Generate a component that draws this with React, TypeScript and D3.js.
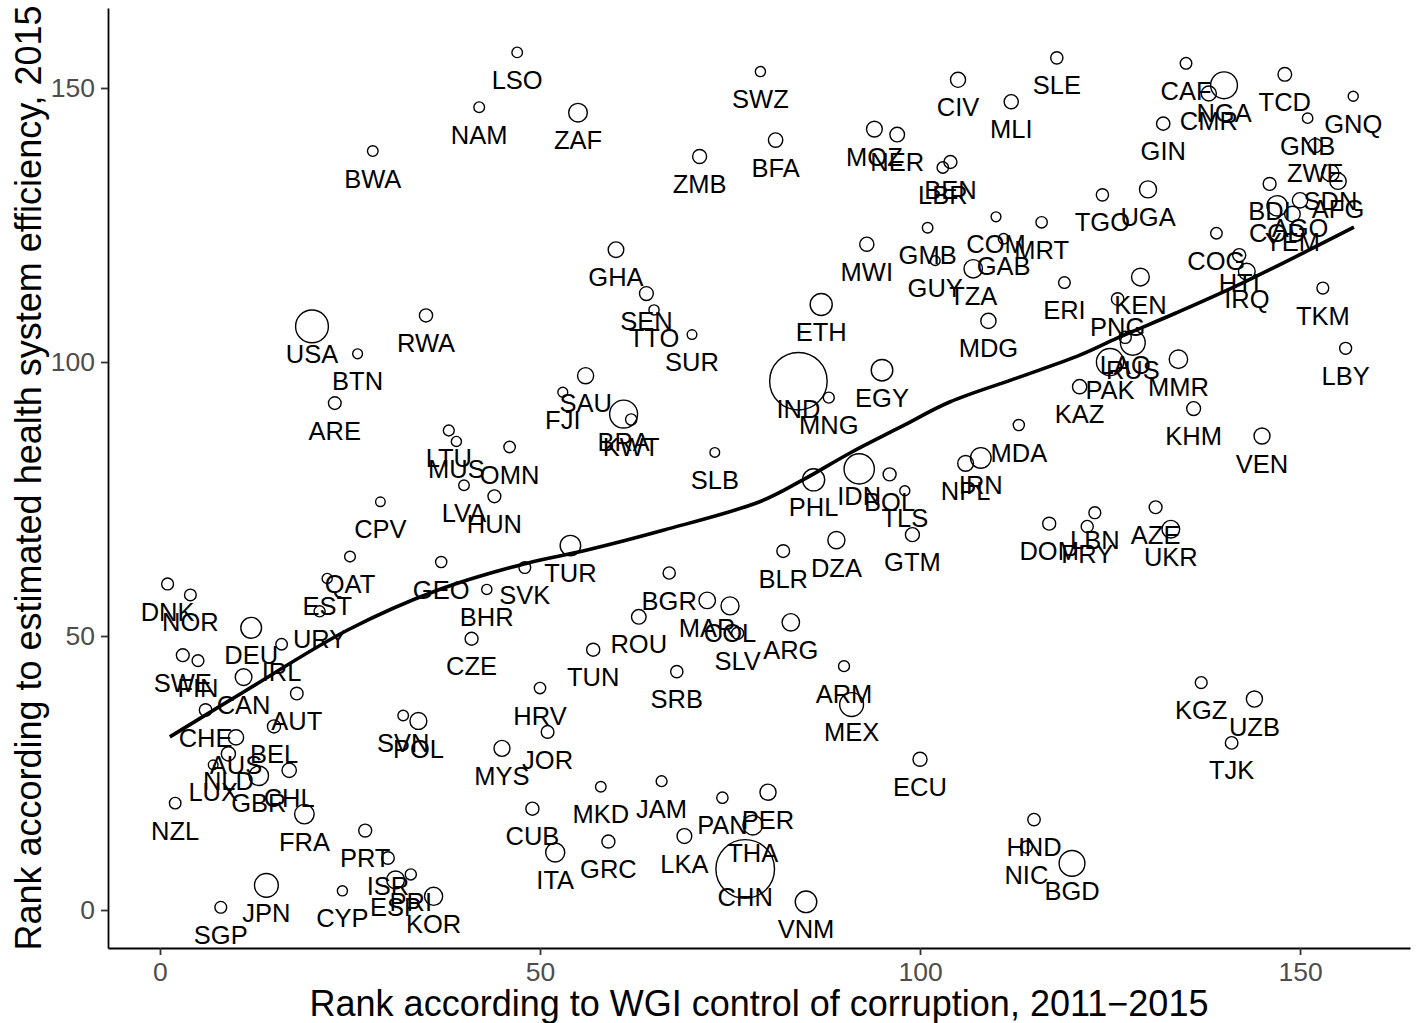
import { useEffect, useRef } from 'react';
import * as d3 from 'd3';

// one entry per country, same order in every array
const codes = [
  'LSO', 'NAM', 'ZAF', 'BWA', 'SWZ', 'ZMB', 'BFA', 'CIV', 'MLI', 'SLE',
  'MOZ', 'NER', 'BEN', 'LBR', 'GMB', 'MWI', 'COM', 'GAB', 'TZA', 'GUY',
  'MRT', 'ERI', 'ETH', 'MDG', 'TGO', 'UGA', 'GIN', 'CAF', 'NGA', 'CMR',
  'TCD', 'GNQ', 'GNB', 'ZWE', 'SDN', 'AFG', 'BDI', 'AGO', 'COD', 'YEM',
  'COG', 'HTI', 'IRQ', 'TKM', 'KEN', 'PNG', 'LBY', 'MMR', 'KHM', 'VEN',
  'PAK', 'RUS', 'LAO', 'KAZ', 'MDA', 'IRN', 'NPL', 'DOM', 'PRY', 'LBN',
  'AZE', 'UKR', 'KGZ', 'UZB', 'TJK', 'HND', 'NIC', 'BGD', 'ECU', 'ARM',
  'MEX', 'VNM', 'PER', 'THA', 'CHN', 'PAN', 'LKA', 'JAM', 'GRC', 'MKD',
  'CUB', 'ITA', 'MYS', 'JOR', 'HRV', 'TUN', 'SRB', 'ROU', 'CZE', 'BGR',
  'MAR', 'COL', 'SLV', 'ARG', 'BLR', 'DZA', 'GTM', 'TLS', 'BOL', 'IDN',
  'PHL', 'IND', 'MNG', 'EGY', 'SLB', 'BRA', 'KWT', 'SAU', 'FJI', 'SUR',
  'TTO', 'SEN', 'GHA', 'LTU', 'MUS', 'OMN', 'LVA', 'HUN', 'TUR', 'SVK',
  'BHR', 'GEO', 'CPV', 'QAT', 'EST', 'URY', 'IRL', 'DEU', 'SWE', 'FIN',
  'CAN', 'AUT', 'CHE', 'BEL', 'AUS', 'NLD', 'LUX', 'GBR', 'CHL', 'FRA',
  'NZL', 'PRT', 'ISR', 'PRI', 'ESP', 'KOR', 'CYP', 'JPN', 'SGP', 'SVN',
  'POL', 'RWA', 'USA', 'BTN', 'ARE', 'DNK', 'NOR',
];

// rank according to WGI control of corruption, 2011-2015
const corruptionRank = [
  47, 42, 55, 28, 79, 71, 81, 105, 112, 118,
  94, 97, 104, 103, 101, 93, 110, 111, 107, 102,
  116, 119, 87, 109, 124, 130, 132, 135, 140, 138,
  148, 157, 151, 152, 154, 155, 146, 150, 147, 149,
  139, 142, 143, 153, 129, 126, 156, 134, 136, 145,
  125, 128, 127, 121, 113, 108, 106, 117, 122, 123,
  131, 133, 137, 144, 141, 115, 114, 120, 100, 90,
  91, 85, 80, 78, 77, 74, 69, 66, 59, 58,
  49, 52, 45, 51, 50, 57, 68, 63, 41, 67,
  72, 75, 76, 83, 82, 89, 99, 98, 96, 92,
  86, 84, 88, 95, 73, 61, 62, 56, 53, 70,
  65, 64, 60, 38, 39, 46, 40, 44, 54, 48,
  43, 37, 29, 25, 22, 21, 16, 12, 3, 5,
  11, 18, 6, 15, 10, 9, 7, 13, 17, 19,
  2, 27, 30, 33, 31, 36, 24, 14, 8, 32,
  34, 35, 20, 26, 23, 1, 4,
];

// rank according to estimated health system efficiency, 2015
const efficiencyRank = [
  156.5, 146.5, 145.5, 138.5, 153, 137.5, 140.5, 151.5, 147.5, 155.5,
  142.5, 141.5, 136.5, 135.5, 124.5, 121.5, 126.5, 122.5, 117, 118.5,
  125.5, 114.5, 110.5, 107.5, 130.5, 131.5, 143.5, 154.5, 150.5, 149,
  152.5, 148.5, 144.5, 139.5, 134.5, 133, 132.5, 129.5, 128.5, 127,
  123.5, 119.5, 116.5, 113.5, 115.5, 111.5, 102.5, 100.5, 91.5, 86.5,
  100, 103.5, 104.5, 95.5, 88.5, 82.5, 81.5, 70.5, 70, 72.5,
  73.5, 69.5, 41.5, 38.5, 30.5, 16.5, 11.5, 8.5, 27.5, 44.5,
  37.5, 1.5, 21.5, 15.5, 7.5, 20.5, 13.5, 23.5, 12.5, 22.5,
  18.5, 10.5, 29.5, 32.5, 40.5, 47.5, 43.5, 53.5, 49.5, 61.5,
  56.5, 55.5, 50.5, 52.5, 65.5, 67.5, 68.5, 76.5, 79.5, 80.5,
  78.5, 96.5, 93.5, 98.5, 83.5, 90.5, 89.5, 97.5, 94.5, 105,
  109.5, 112.5, 120.5, 87.5, 85.5, 84.5, 77.5, 75.5, 66.5, 62.5,
  58.5, 63.5, 74.5, 64.5, 60.5, 54.5, 48.5, 51.5, 46.5, 45.5,
  42.5, 39.5, 36.5, 33.5, 31.5, 28.5, 26.5, 24.5, 25.5, 17.5,
  19.5, 14.5, 9.5, 6.5, 5.5, 2.5, 3.5, 4.5, 0.5, 35.5,
  34.5, 108.5, 106.5, 101.5, 92.5, 59.5, 57.5,
];

// population, millions (circle size)
const population = [
  2.1, 2.4, 55, 2.2, 1.3, 16, 18, 23, 17, 7.2,
  28, 20, 10.8, 4.5, 2, 17, 0.8, 1.9, 53, 0.8,
  4.1, 5, 99, 24, 7.3, 39, 12, 4.9, 182, 23,
  14, 1.2, 1.8, 15.6, 40, 33, 10, 25, 77, 27,
  4.6, 10.7, 36, 5.6, 46, 7.9, 6.2, 53, 15.5, 30,
  189, 144, 6.8, 17.5, 3.5, 79, 28, 10.5, 6.6, 5.9,
  9.6, 45, 6, 31, 8.5, 8.1, 6.1, 161, 16, 3,
  127, 92, 31, 68, 1370, 4, 21, 2.8, 10.8, 2.1,
  11, 60, 30, 9.2, 4.2, 11, 7.1, 20, 10.5, 7.2,
  34, 48, 6.3, 43, 9.5, 40, 16, 1.2, 10.7, 258,
  101, 1310, 3, 92, 0.6, 206, 3.9, 31, 0.9, 0.55,
  1.4, 15, 27, 2.9, 1.3, 4.5, 2, 9.8, 78, 5.4,
  1.4, 3.7, 0.52, 2.5, 1.3, 3.4, 4.7, 81, 9.8, 5.5,
  36, 8.6, 8.3, 11, 24, 17, 0.57, 65, 18, 66,
  4.6, 10.3, 8.4, 3.5, 46, 50, 1.2, 127, 5.5, 2.1,
  38, 11.6, 321, 0.8, 9.2, 5.7, 5.2,
];

// smoothed trend
const smoothX = [1.3, 11, 24.7, 36.6, 48.3, 56.2, 66.2, 78.9, 84.6, 90.8, 97.4, 103.9, 112.8, 121.1, 126, 133.6, 142.4, 157.1];
const smoothY = [31.6, 39.8, 51.1, 58.4, 63.3, 65.7, 69.3, 74.5, 78.5, 83.4, 88.1, 92.7, 97.1, 101.3, 104.4, 108.9, 114.4, 124.6];

const xTicks = [0, 50, 100, 150];
const yTicks = [0, 50, 100, 150];

const W = 1419;
const H = 1023;
const FONT = '"Liberation Sans", Arial, Helvetica, sans-serif';

export default function App() {
  const ref = useRef<SVGSVGElement>(null);

  useEffect(() => {
    const svg = d3.select(ref.current);
    svg.selectAll('*').remove();

    const left = 108, right = 1410, top = 8, bottom = 948;
    const x = d3.scaleLinear().domain([-6.84, 164.47]).range([left, right]);
    const y = d3.scaleLinear().domain([-6.93, 164.6]).range([bottom, top]);
    const r = d3.scaleSqrt().domain([0, d3.max(population) as number]).range([5, 30]);

    svg.append('rect').attr('width', W).attr('height', H).attr('fill', '#fff');

    const pts = codes.map((c, i) => ({ c, x: corruptionRank[i], y: efficiencyRank[i], p: population[i] }));

    svg.append('g').selectAll('circle').data(pts).enter().append('circle')
      .attr('cx', d => x(d.x)).attr('cy', d => y(d.y)).attr('r', d => r(d.p) - 0.7)
      .attr('fill', 'none').attr('stroke', '#000').attr('stroke-width', 1.4);

    svg.append('g').selectAll('text').data(pts).enter().append('text')
      .attr('x', d => x(d.x)).attr('y', d => y(d.y - 5)).attr('dy', '0.36em')
      .attr('text-anchor', 'middle').attr('font-family', FONT).attr('font-size', 25.5)
      .attr('fill', '#000').text(d => d.c);

    const line = d3.line<number>().x(d => x(d)).y((_, i) => y(smoothY[i])).curve(d3.curveCatmullRom);
    svg.append('path').attr('d', line(smoothX)).attr('fill', 'none')
      .attr('stroke', '#000').attr('stroke-width', 3.6);

    svg.append('g').attr('transform', `translate(0,${bottom})`)
      .call(d3.axisBottom(x).tickValues(xTicks).tickSize(7).tickSizeOuter(0).tickPadding(7))
      .call(g => g.select('.domain').attr('stroke', '#000').attr('stroke-width', 1.8))
      .call(g => g.selectAll('.tick line').attr('stroke', '#333').attr('stroke-width', 1.8))
      .call(g => g.selectAll('.tick text').attr('fill', '#4D4D4D').attr('font-size', 26.5).attr('font-family', FONT));

    svg.append('g').attr('transform', `translate(${left},0)`)
      .call(d3.axisLeft(y).tickValues(yTicks).tickSize(7).tickSizeOuter(0).tickPadding(6))
      .call(g => g.select('.domain').attr('stroke', '#000').attr('stroke-width', 1.8))
      .call(g => g.selectAll('.tick line').attr('stroke', '#333').attr('stroke-width', 1.8))
      .call(g => g.selectAll('.tick text').attr('fill', '#4D4D4D').attr('font-size', 26.5).attr('font-family', FONT));

    svg.append('text').attr('x', (left + right) / 2).attr('y', 1016)
      .attr('text-anchor', 'middle').attr('font-family', FONT).attr('font-size', 36)
      .attr('fill', '#000').text('Rank according to WGI control of corruption, 2011\u22122015');

    svg.append('text').attr('transform', `translate(41,${(top + bottom) / 2}) rotate(-90)`)
      .attr('text-anchor', 'middle').attr('font-family', FONT).attr('font-size', 36)
      .attr('fill', '#000').text('Rank according to estimated health system efficiency, 2015');
  }, []);

  return (
    <svg ref={ref} width={W} height={H} style={{ position: 'absolute', left: 0, top: 0 }} />
  );
}
